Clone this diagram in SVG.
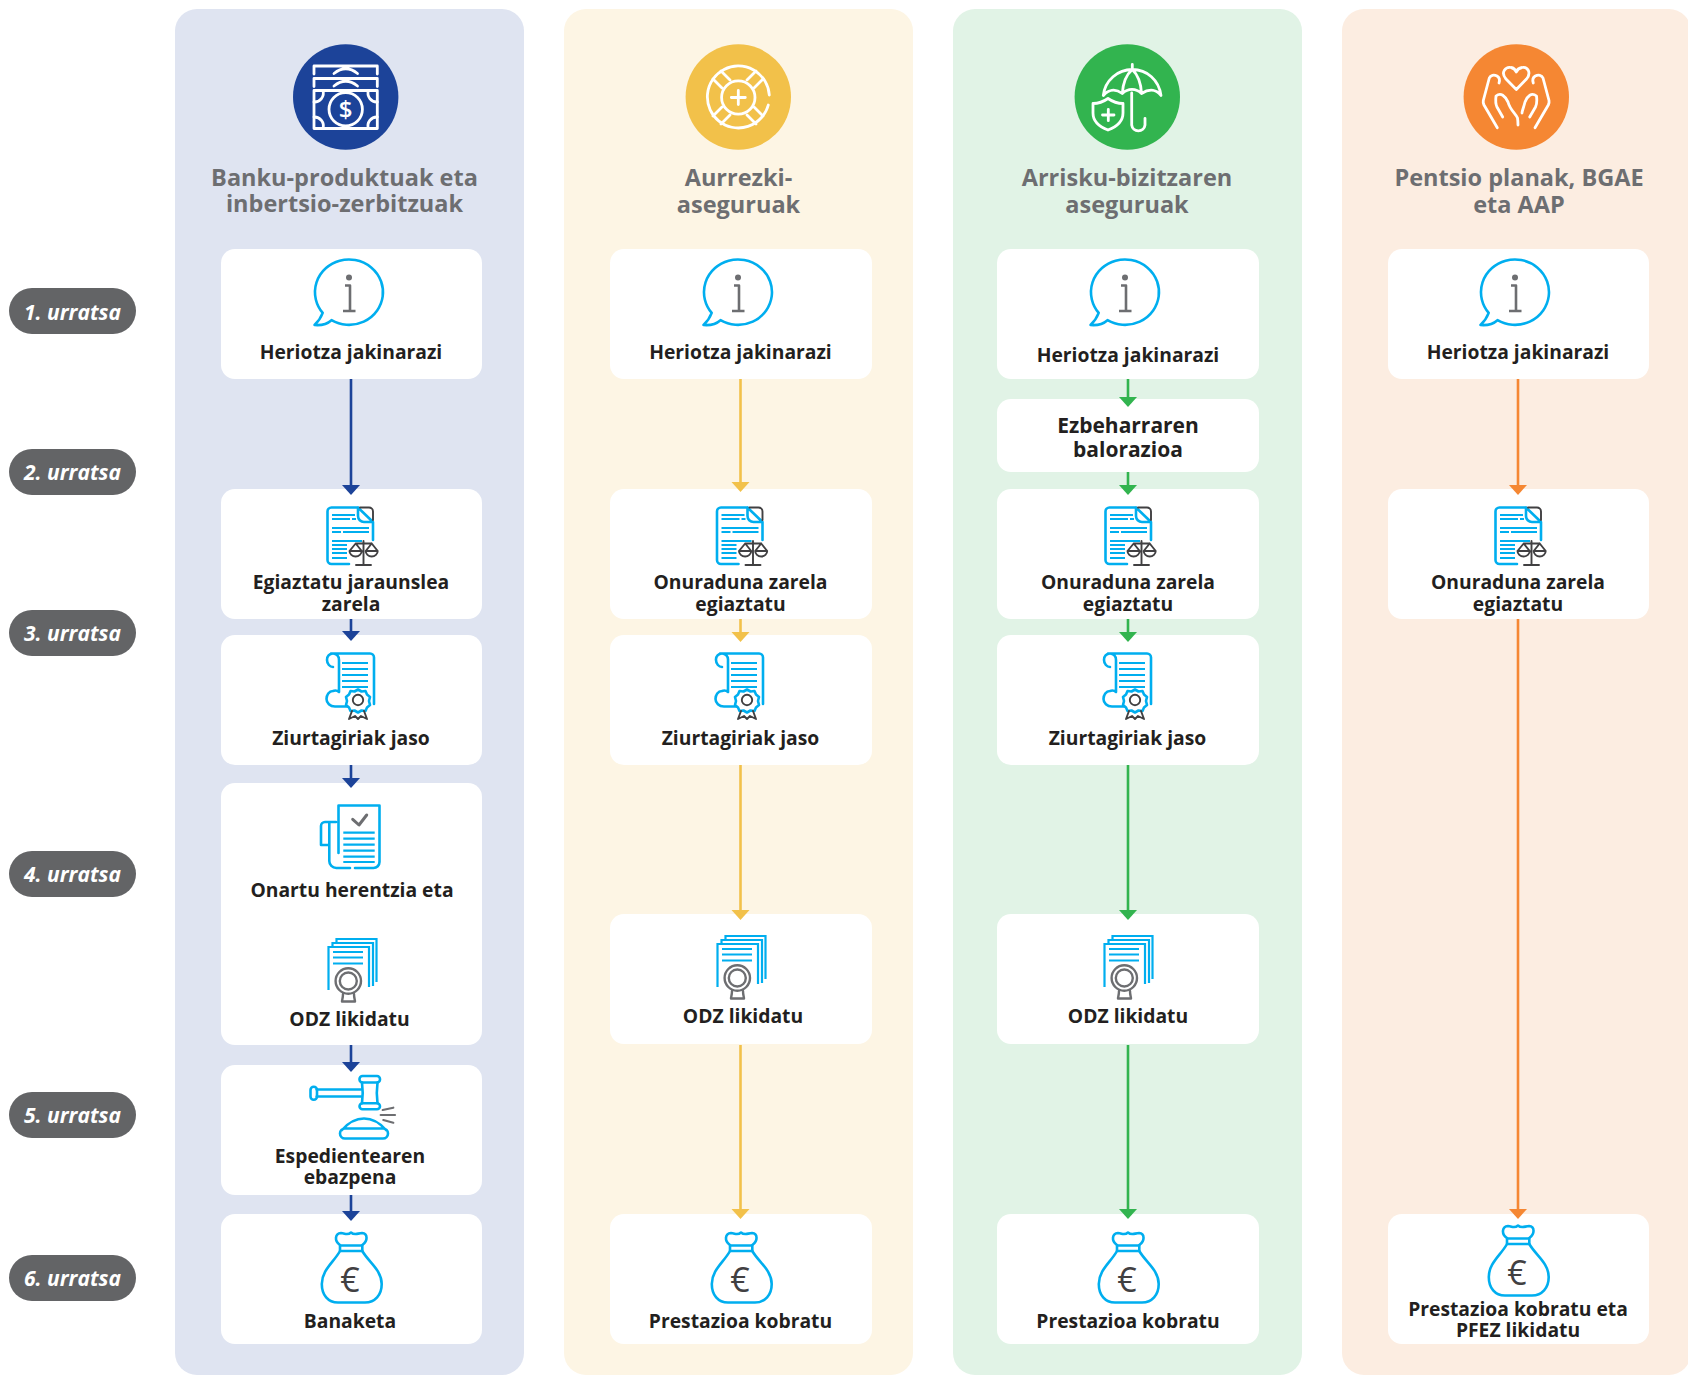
<svg xmlns="http://www.w3.org/2000/svg" width="1688" height="1375" viewBox="0 0 1688 1375">
<style>
.lane{stroke:none}
.card{fill:#fff}
.h{font:700 23.500px "Open Sans",sans-serif;fill:#6d6e71;text-anchor:middle}
.t{font:700 19.300px "Open Sans",sans-serif;fill:#231f20;text-anchor:middle}
.t2{font:700 21px "Open Sans",sans-serif;fill:#231f20;text-anchor:middle}
.b{font:italic 700 21px "Open Sans",sans-serif;fill:#fff;text-anchor:middle}
.badge{fill:#636466}
.w{fill:none;stroke:#fff;stroke-width:2.800;stroke-linecap:round;stroke-linejoin:round}
.c{fill:none;stroke:#00aeef;stroke-width:2.600;stroke-linecap:round;stroke-linejoin:round}
.l{fill:none;stroke:#00aeef;stroke-width:2.200}
.g{fill:none;stroke:#6d6e71;stroke-width:2.400;stroke-linecap:round;stroke-linejoin:round}
.d{fill:none;stroke:#414042;stroke-width:1.900;stroke-linecap:round;stroke-linejoin:round}
.ar{fill:none;stroke-width:2.600}
.blue{stroke:#1c4399}.yel{stroke:#f2c14a}.grn{stroke:#32b44f}.org{stroke:#f58733}
</style>
<defs>
<path id="tip" d="M-9,-10H9L0,0z"/>
<g id="ic-info">
<path class="c" d="M331.500,320.200A34,32.700 0 1 0 322.700,312.900Q320,320 314.500,325Q325,326 331.500,320.200z"/>
<circle cx="349" cy="277.500" r="3" fill="#6d6e71"/>
<path class="g" style="stroke-width:2.600;stroke-linecap:butt" d="M345,285.500H350V311M343,311H355.500"/>
</g>
<g id="ic-doc">
<path class="c" d="M358,507.500H331.500a4,4 0 0 0 -4,4V560a4,4 0 0 0 4,4H349M373,522V540M358,507.500V516a6,6 0 0 0 6,6H373L358,507.500"/>
<path class="d" d="M360,507.500H369a4,4 0 0 1 4,4V520"/>
<path class="l" d="M332,515H355M332,519H350M352,519H356M332,528H369M332,532H341M343,532H369M332,541H362M332,545H347M332,549H347M332,553H347M332,558H347"/>
<path class="d" d="M363.500,541V565M356,565H371M355.700,543.500H371.700M355.700,543.500L349.500,551H361.700zM371.700,543.500L365.700,551H377.700zM349.500,551a6.100,5.500 0 0 0 12.200,0M365.700,551a6,5.500 0 0 0 12,0"/>
</g>
<g id="ic-cert">
<path class="c" d="M331,653.500H370a4,4 0 0 1 4,4V704M339,660a6,6 0 0 0 -6,-6.500a6,6 0 0 0 -6,6.500C327,664 330,667 333,667M339,660V692M339,692a6,6 0 0 0 -6,-1C329,691 326.500,695 326.500,699C326.500,703 330,706.500 335,706.500H348"/>
<path class="l" d="M342,663H368M342,669H368M342,675H368M342,681H368M342,687H368"/>
<path class="c" style="fill:#fff" d="M358,689.500l3.500,2 4,-.5 1.500,3.500 3,2.500 -1,4 1,4 -3,2.500 -1.500,3.500 -4,-.5 -3.500,2 -3.500,-2 -4,.5 -1.500,-3.500 -3,-2.500 1,-4 -1,-4 3,-2.500 1.500,-3.500 4,.5z"/>
<circle class="d" cx="358" cy="700" r="5.200"/>
<path class="d" d="M352,711L349,719L355,716L358,719L361,716L367,719L364,711"/>
</g>
<g id="ic-check">
<path class="c" d="M338.500,853V805.500H379.500V862a6,6 0 0 1 -6,6H355M336,822H325a4,4 0 0 0 -4,4V845H329.300V822M329.300,845V861a7,7 0 0 0 7,7H350"/>
<path class="l" d="M343.300,832.700H374.700M343.300,838.700H374.700M343.300,844.700H374.700M343.300,850.700H374.700M343.300,856.700H374.700M343.300,862H374.700"/>
<path class="g" style="stroke-width:3" d="M352.700,819.300L359,825L366.700,815"/>
</g>
<g id="ic-odz">
<path class="l" d="M328.500,990V947H369V987M332.500,947V943H373V986M336.500,943V939H376.500V982"/>
<path class="l" d="M333,952H363M333,957.500H363M333,963.500H363"/>
<circle cx="348.300" cy="981" r="12.700" fill="#fff" stroke="#6d6e71" stroke-width="2.400"/>
<circle class="g" cx="348.300" cy="981" r="8.500"/>
<path class="g" d="M343,994C343,998 342,1000 342,1001.500H355C355,1000 354,998 354,994"/>
</g>
<g id="ic-gavel">
<path class="c" d="M316.700,1089.500H361M316.700,1096.500H361"/>
<rect class="c" x="310.500" y="1086.700" width="6.500" height="13" rx="3.200"/>
<rect class="c" x="359.500" y="1076" width="20.500" height="6.500" rx="3"/>
<rect class="c" x="359.500" y="1103.300" width="20.500" height="6" rx="3"/>
<path class="c" d="M362,1082.500C363,1090 363,1096 362,1103.300M377.500,1082.500C376.500,1090 376.500,1096 377.500,1103.300"/>
<path class="g" style="stroke-width:2.200" d="M382.700,1110L393.300,1107.700M380.700,1115H395M383.300,1120L393.300,1122.700"/>
<path class="c" d="M345,1128.500H383a5,5 0 0 1 0,10H345a5,5 0 0 1 0,-10zM342,1130Q352,1118.500 364,1118.500Q376,1118.500 386,1130"/>
</g>
<g id="ic-bag">
<path class="c" d="M340,1245C334,1241 335,1233.500 341,1233C345,1233 347,1236 351,1232.500C355,1236 358,1233 362,1233C368,1233.500 368,1241 362.300,1245"/>
<path class="c" d="M340,1245.500H362.300M340,1251H362.300M340,1245.500V1251M362.300,1245.500V1251"/>
<path class="c" d="M340,1251C334,1262 321.800,1270 321.800,1284C321.800,1295 328,1302.500 338,1302.500H365C375,1302.500 381.700,1295 381.700,1284C381.700,1270 368.500,1262 362.300,1251"/>
<text x="350" y="1291.500" style="font:500 34px 'Open Sans',sans-serif;fill:#414042;text-anchor:middle">€</text>
</g>
</defs>

<g id="lanes">
<rect class="lane" x="175" y="9" width="349" height="1366" rx="22" fill="#dfe4f1"/>
<rect class="lane" x="564" y="9" width="349" height="1366" rx="22" fill="#fdf5e4"/>
<rect class="lane" x="953" y="9" width="349" height="1366" rx="22" fill="#e1f3e6"/>
<rect class="lane" x="1342" y="9" width="349" height="1366" rx="22" fill="#fcede1"/>
</g>

<g id="steps">
<g id="step1"><rect class="badge" x="9" y="288" width="127" height="46" rx="23"/><text class="b" x="72.500" y="319.500">1. urratsa</text></g>
<g id="step2"><rect class="badge" x="9" y="449" width="127" height="46" rx="23"/><text class="b" x="72.500" y="479.500">2. urratsa</text></g>
<g id="step3"><rect class="badge" x="9" y="610" width="127" height="46" rx="23"/><text class="b" x="72.500" y="640.500">3. urratsa</text></g>
<g id="step4"><rect class="badge" x="9" y="851" width="127" height="46" rx="23"/><text class="b" x="72.500" y="881.500">4. urratsa</text></g>
<g id="step5"><rect class="badge" x="9" y="1092" width="127" height="46" rx="23"/><text class="b" x="72.500" y="1122.500">5. urratsa</text></g>
<g id="step6"><rect class="badge" x="9" y="1255" width="127" height="46" rx="23"/><text class="b" x="72.500" y="1285.500">6. urratsa</text></g>
</g>

<g id="col1-header">
<circle cx="345.700" cy="97" r="52.700" fill="#1c4399"/>
<path class="w" d="M314,74V66H377.300V74M334,73.500Q345.700,64 357.500,73.500M314,86.500V78.500H377.300V86.500M334,86Q345.700,76.500 357.500,86"/>
<rect class="w" x="314" y="90.500" width="63.300" height="38"/>
<circle class="w" cx="345.700" cy="109.300" r="16.700"/>
<path class="w" d="M314,102a9,9 0 0 0 9,-11.500M377.300,102a9,9 0 0 1 -9,-11.500M314,117a9,9 0 0 1 9,11.500M377.300,117a9,9 0 0 0 -9,11.500"/>
<text x="345.700" y="117.500" style="font:600 24px 'Open Sans',sans-serif;fill:#fff;text-anchor:middle">$</text>
<text class="h" x="344.500" y="186">Banku-produktuak eta</text><text class="h" x="344.500" y="212">inbertsio-zerbitzuak</text>
</g>
<g id="col2-header">
<circle cx="738.300" cy="97" r="52.700" fill="#f2c14a"/>
<path class="w" d="M769.300,95A31,31 0 1 0 768.300,105"/>
<circle class="w" cx="738.300" cy="97.500" r="16.700"/>
<path class="w" d="M731.300,97.500H745.300M738.300,90.500V104.500M721,71L730,80M713,79L722,88M756,71L747,80M763,79L754,88M713,116L722,107M721,124L730,115M756,124L747,115M763,116L754,107"/>
<text class="h" x="738.500" y="186">Aurrezki-</text><text class="h" x="738.500" y="213">aseguruak</text>
</g>
<g id="col3-header">
<circle cx="1127.300" cy="97" r="52.700" fill="#32b44f"/>
<path class="w" d="M1132.300,64.500V69.500M1103.300,95.500C1105,80 1118,69.500 1132.300,69.500C1147,69.500 1159,80 1161,95.500C1157,90 1150,88 1141.500,93.500C1136,88 1128,88 1122.300,93.500C1115,88 1108,90 1103.300,95.500M1132.300,69.500C1127,74 1123,83 1122.300,93.500M1132.300,69.500C1137,74 1141,83 1141.500,93.500M1131.700,93V125a6.700,6.700 0 0 0 13.300,0V118.300"/>
<path class="w" d="M1108,98.500C1103,102 1098,103.500 1093,103.500V113C1093,122 1100,127 1108,130C1116,127 1123,122 1123,113V103.500C1118,103.500 1113,102 1108,98.500zM1102.500,115H1114M1108.300,109.300V120.700"/>
<text class="h" x="1127" y="186">Arrisku-bizitzaren</text><text class="h" x="1127" y="213">aseguruak</text>
</g>
<g id="col4-header">
<circle cx="1516.300" cy="97" r="52.700" fill="#f58733"/>
<path class="w" d="M1516.300,89.500L1506,79C1500,72 1506,66.500 1511,67.500C1514,68 1515.500,70 1516.300,72C1517,70 1519,68 1522,67.500C1527,66.500 1532,72 1526.500,79z"/>
<path class="w" d="M1497.300,127.700L1484,105C1483,103 1483,102 1483.300,100.500L1489.300,78C1490.500,75 1494,74.500 1497,76C1499.500,77.500 1500,80 1499,83"/>
<path class="w" d="M1535,127.700L1548.300,105C1549.300,103 1549.300,102 1549,100.500L1543,78C1541.800,75 1538.300,74.500 1535.300,76C1532.800,77.500 1532.300,80 1533.300,83"/>
<path class="w" d="M1502.700,117L1497,107C1495.500,104 1495.500,100 1496,96C1501,92 1505,96 1508,102C1510,110 1516,114 1517.500,118C1518,121 1518,123 1518,125"/>
<path class="w" d="M1529.700,117L1535.500,107C1537,104 1537,100 1536.500,96C1531.500,92 1527.500,96 1525,102C1523.500,108 1522,111 1522,113"/>
<text class="h" x="1519" y="186">Pentsio planak, BGAE</text><text class="h" x="1519" y="213">eta AAP</text>
</g>

<g id="col1-notify"><rect class="card" x="221" y="249" width="261" height="130" rx="14"/><use href="#ic-info"/><text class="t" x="351" y="359">Heriotza jakinarazi</text></g>
<g id="col1-verify"><rect class="card" x="221" y="489" width="261" height="130" rx="14"/><use href="#ic-doc"/><text class="t" x="351" y="589">Egiaztatu jaraunslea</text><text class="t" x="351" y="611">zarela</text></g>
<g id="col1-certs"><rect class="card" x="221" y="635" width="261" height="130" rx="14"/><use href="#ic-cert"/><text class="t" x="351" y="745">Ziurtagiriak jaso</text></g>
<g id="col1-accept"><rect class="card" x="221" y="783" width="261" height="262" rx="14"/><use href="#ic-check"/><text class="t" x="352" y="897">Onartu herentzia eta</text><use href="#ic-odz"/><text class="t" x="349.500" y="1026">ODZ likidatu</text></g>
<g id="col1-resolve"><rect class="card" x="221" y="1065" width="261" height="130" rx="14"/><use href="#ic-gavel"/><text class="t" x="350" y="1163">Espedientearen</text><text class="t" x="350" y="1184">ebazpena</text></g>
<g id="col1-share"><rect class="card" x="221" y="1214" width="261" height="130" rx="14"/><use href="#ic-bag"/><text class="t" x="350" y="1328">Banaketa</text></g>

<g id="col2-notify"><rect class="card" x="610" y="249" width="262" height="130" rx="14"/><use href="#ic-info" x="389"/><text class="t" x="740.500" y="359">Heriotza jakinarazi</text></g>
<g id="col2-verify"><rect class="card" x="610" y="489" width="262" height="130" rx="14"/><use href="#ic-doc" x="389.500"/><text class="t" x="740.500" y="589">Onuraduna zarela</text><text class="t" x="740.500" y="611">egiaztatu</text></g>
<g id="col2-certs"><rect class="card" x="610" y="635" width="262" height="130" rx="14"/><use href="#ic-cert" x="389"/><text class="t" x="740.500" y="745">Ziurtagiriak jaso</text></g>
<g id="col2-odz"><rect class="card" x="610" y="914" width="262" height="130" rx="14"/><use href="#ic-odz" x="389" y="-3"/><text class="t" x="743" y="1023">ODZ likidatu</text></g>
<g id="col2-collect"><rect class="card" x="610" y="1214" width="262" height="130" rx="14"/><use href="#ic-bag" x="390"/><text class="t" x="740.500" y="1328">Prestazioa kobratu</text></g>

<g id="col3-notify"><rect class="card" x="997" y="249" width="262" height="130" rx="14"/><use href="#ic-info" x="776"/><text class="t" x="1128" y="362">Heriotza jakinarazi</text></g>
<g id="col3-assess"><rect class="card" x="997" y="399" width="262" height="73" rx="14"/><text class="t2" x="1128" y="433">Ezbeharraren</text><text class="t2" x="1128" y="457">balorazioa</text></g>
<g id="col3-verify"><rect class="card" x="997" y="489" width="262" height="130" rx="14"/><use href="#ic-doc" x="778"/><text class="t" x="1128" y="589">Onuraduna zarela</text><text class="t" x="1128" y="611">egiaztatu</text></g>
<g id="col3-certs"><rect class="card" x="997" y="635" width="262" height="130" rx="14"/><use href="#ic-cert" x="777"/><text class="t" x="1127.500" y="745">Ziurtagiriak jaso</text></g>
<g id="col3-odz"><rect class="card" x="997" y="914" width="262" height="130" rx="14"/><use href="#ic-odz" x="776" y="-3"/><text class="t" x="1128" y="1023">ODZ likidatu</text></g>
<g id="col3-collect"><rect class="card" x="997" y="1214" width="262" height="130" rx="14"/><use href="#ic-bag" x="777"/><text class="t" x="1128" y="1328">Prestazioa kobratu</text></g>

<g id="col4-notify"><rect class="card" x="1388" y="249" width="261" height="130" rx="14"/><use href="#ic-info" x="1166"/><text class="t" x="1518" y="359">Heriotza jakinarazi</text></g>
<g id="col4-verify"><rect class="card" x="1388" y="489" width="261" height="130" rx="14"/><use href="#ic-doc" x="1168"/><text class="t" x="1518" y="589">Onuraduna zarela</text><text class="t" x="1518" y="611">egiaztatu</text></g>
<g id="col4-collect"><rect class="card" x="1388" y="1214" width="261" height="130" rx="14"/><use href="#ic-bag" x="1167" y="-7"/><text class="t" x="1518" y="1316">Prestazioa kobratu eta</text><text class="t" x="1518" y="1337">PFEZ likidatu</text></g>

<g id="connectors">
<g fill="#1c4399">
<path class="ar blue" d="M351,379V486M351,619V632M351,765V779M351,1045V1063M351,1195V1212"/>
<use href="#tip" x="351" y="495"/><use href="#tip" x="351" y="641"/><use href="#tip" x="351" y="788"/><use href="#tip" x="351" y="1072"/><use href="#tip" x="351" y="1221"/>
</g>
<g fill="#f2c14a">
<path class="ar yel" d="M740.500,379V483M740.500,619V633M740.500,765V911M740.500,1045V1210"/>
<use href="#tip" x="740.500" y="492"/><use href="#tip" x="740.500" y="642"/><use href="#tip" x="740.500" y="920"/><use href="#tip" x="740.500" y="1219"/>
</g>
<g fill="#32b44f">
<path class="ar grn" d="M1128,379V398M1128,472V486M1128,619V633M1128,765V911M1128,1045V1210"/>
<use href="#tip" x="1128" y="407"/><use href="#tip" x="1128" y="495"/><use href="#tip" x="1128" y="642"/><use href="#tip" x="1128" y="920"/><use href="#tip" x="1128" y="1219"/>
</g>
<g fill="#f58733">
<path class="ar org" d="M1518,379V486M1518,619V1210"/>
<use href="#tip" x="1518" y="495"/><use href="#tip" x="1518" y="1219"/>
</g>
</g>
</svg>
